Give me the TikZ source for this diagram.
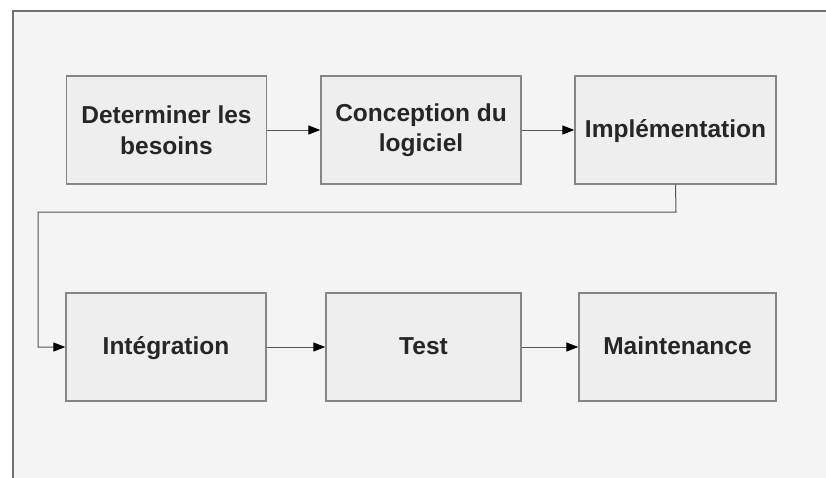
\documentclass[tikz,border=0pt]{standalone}
\usepackage{fontspec}
\setmainfont{Liberation Sans}
\usetikzlibrary{arrows.meta}
\definecolor{framebg}{HTML}{F4F4F4}
\definecolor{boxbg}{HTML}{EEEEEE}
\definecolor{boxline}{HTML}{858585}
\definecolor{frameline}{HTML}{707070}
\definecolor{conline}{HTML}{555555}
\tikzset{
  stepbox/.style={draw=boxline, line width=1.4pt, fill=boxbg, minimum width=200pt, minimum height=108pt,
    inner sep=0pt, align=center, font=\fontsize{24.5}{30.5}\selectfont\bfseries, text=black!85},
  oneline/.style={text height=19pt, text depth=5pt},
  conn/.style={draw=conline, line width=1pt, -{Triangle[length=12pt,width=9pt,black]}},
}
\begin{document}
\begin{tikzpicture}[x=1pt,y=-1pt]
\useasboundingbox (0,0) rectangle (826,477);
\fill[white] (0,0) rectangle (826,477);
\begin{scope}
\clip (0,0) rectangle (826,477);
\draw[frameline, line width=2.2pt, fill=framebg] (13,11) rectangle (840,490);
\end{scope}
\node[stepbox] (b1) at (166.5,130) {Determiner les\\besoins};
\node[stepbox] (b2) at (421,130) {Conception du\\logiciel};
\node[stepbox, oneline, minimum width=201pt] (b3) at (675.5,130) {Implémentation};
\node[stepbox, oneline] (b4) at (166,347) {Intégration};
\node[stepbox, oneline, minimum width=195pt] (b5) at (423.5,347) {Test};
\node[stepbox, oneline, minimum width=197pt] (b6) at (677.5,347) {Maintenance};
\coordinate (c1) at (676,212);
\coordinate (c2) at (38,212);
\coordinate (c3) at (38,347);
\draw[conn] (b1) -- (b2);
\draw[conn] (b2) -- (b3);
\draw[conn] (b3.south) -- (c1) -- (c2) -- (c3) -- (b4.west);
\draw[conn] (b4) -- (b5);
\draw[conn] (b5) -- (b6);
\end{tikzpicture}
\end{document}
